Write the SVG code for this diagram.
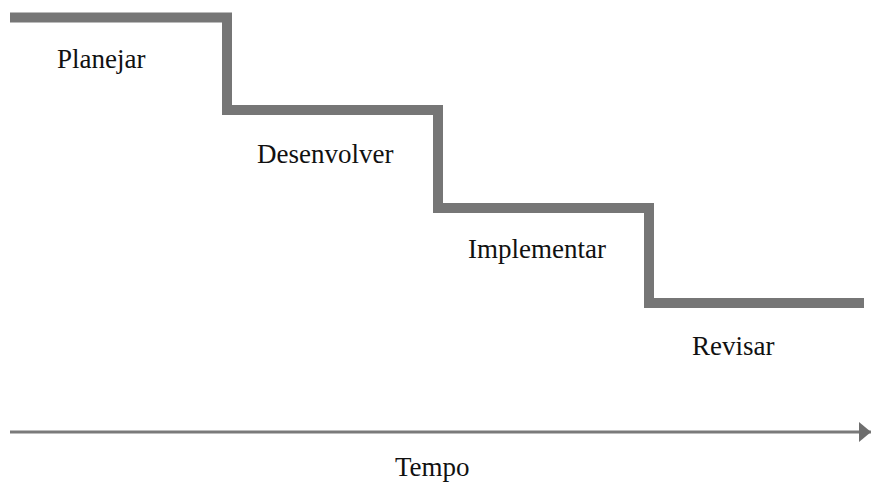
<svg xmlns="http://www.w3.org/2000/svg" width="871" height="483" viewBox="0 0 871 483">
  <style>
    .step { fill: none; stroke: #767676; stroke-width: 10; stroke-linejoin: miter; }
    .axis { fill: none; stroke: #7a7a7a; stroke-width: 3; }
    .label { font-family: "Liberation Serif", "Times New Roman", serif; font-size: 27px; fill: #111; }
  </style>
  <defs>
    <marker id="arrowhead" markerUnits="userSpaceOnUse" markerWidth="12" markerHeight="20" refX="12" refY="10" orient="auto">
      <path d="M0,0 L12,10 L0,20 Z" fill="#6e6e6e"/>
    </marker>
  </defs>
  <rect width="871" height="483" fill="#ffffff"/>

  <g id="connectors">
    <!-- descending staircase of phases -->
    <path class="step" d="M10,17.5 H227 V110 H438 V208 H649 V303 H864"/>
    <!-- time axis -->
    <line class="axis" x1="10" y1="432" x2="871" y2="432" marker-end="url(#arrowhead)"/>
  </g>

  <g id="planejar"><text class="label" x="57" y="68">Planejar</text></g>
  <g id="desenvolver"><text class="label" x="257" y="163">Desenvolver</text></g>
  <g id="implementar"><text class="label" x="468" y="258">Implementar</text></g>
  <g id="revisar"><text class="label" x="692" y="355">Revisar</text></g>
  <g id="tempo"><text class="label" x="395" y="476">Tempo</text></g>
</svg>
